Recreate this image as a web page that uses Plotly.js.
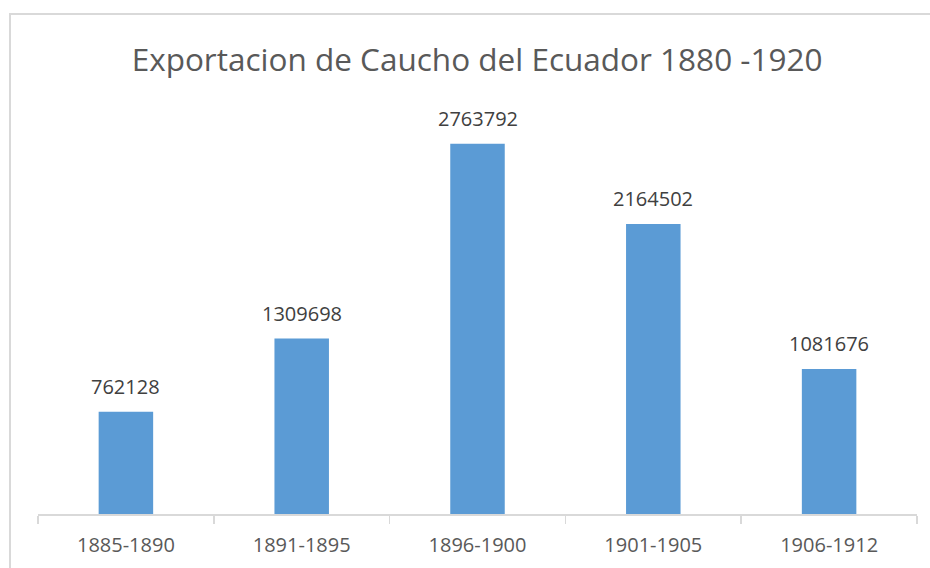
<!DOCTYPE html>
<html>
<head>
<meta charset="utf-8">
<script src="https://cdn.plot.ly/plotly-3.0.1.min.js"></script>
<style>
html,body{margin:0;padding:0;background:#fff;overflow:hidden;}
#chart{width:930px;height:568px;}
</style>
</head>
<body>
<div id="chart"></div>
<script>
const categories = ["1885-1890", "1891-1895", "1896-1900", "1901-1905", "1906-1912"];
const values = [762128, 1309698, 2763792, 2164502, 1081676];
const titleText = "Exportacion de Caucho del Ecuador 1880 -1920";

const font = "Open Sans, Noto Sans, sans-serif";

const trace = {
  type: "bar",
  x: categories,
  y: values,
  marker: {color: "#5b9bd5"},
  hoverinfo: "none"
};

const labels = categories.map((c, i) => ({
  x: c, y: values[i], xref: "x", yref: "y",
  text: String(values[i]),
  showarrow: false,
  xanchor: "center", yanchor: "bottom",
  yshift: 10,
  font: {family: font, size: 20, color: "#404040"}
}));

const W = 930, H = 568;
const L = 38, R = 930 - 917, T = 112, B = 568 - 514;

const layout = {
  width: W, height: H,
  margin: {l: L, r: R, t: T, b: B, pad: 0},
  paper_bgcolor: "#fff",
  plot_bgcolor: "#fff",
  bargap: 0.69,
  showlegend: false,
  title: {
    text: titleText,
    font: {family: font, size: 31.5, color: "#595959"},
    x: 0.513, xanchor: "center",
    y: 1 - 60 / H, yanchor: "middle", yref: "container"
  },
  xaxis: {
    type: "category",
    showline: true, linecolor: "#d9d9d9", linewidth: 1.5,
    ticks: "outside", ticklen: 8, tickcolor: "#d9d9d9", tickwidth: 1.5,
    tickson: "boundaries",
    ticklabelstandoff: 12,
    tickfont: {family: font, size: 20, color: "#595959"},
    showgrid: false, zeroline: false, fixedrange: true
  },
  yaxis: {
    range: [0, 3000000],
    visible: false, showgrid: false, zeroline: false, fixedrange: true
  },
  annotations: labels,
  shapes: [{
    type: "rect", xref: "paper", yref: "paper",
    x0: (10 - L) / (W - L - R), x1: (1000 - L) / (W - L - R),
    y0: (H - B - 1000) / (H - T - B), y1: (H - B - 14) / (H - T - B),
    line: {color: "#d9d9d9", width: 2}, fillcolor: "rgba(0,0,0,0)", layer: "below"
  }]
};

Plotly.newPlot("chart", [trace], layout, {displayModeBar: false, staticPlot: true});
</script>
</body>
</html>
